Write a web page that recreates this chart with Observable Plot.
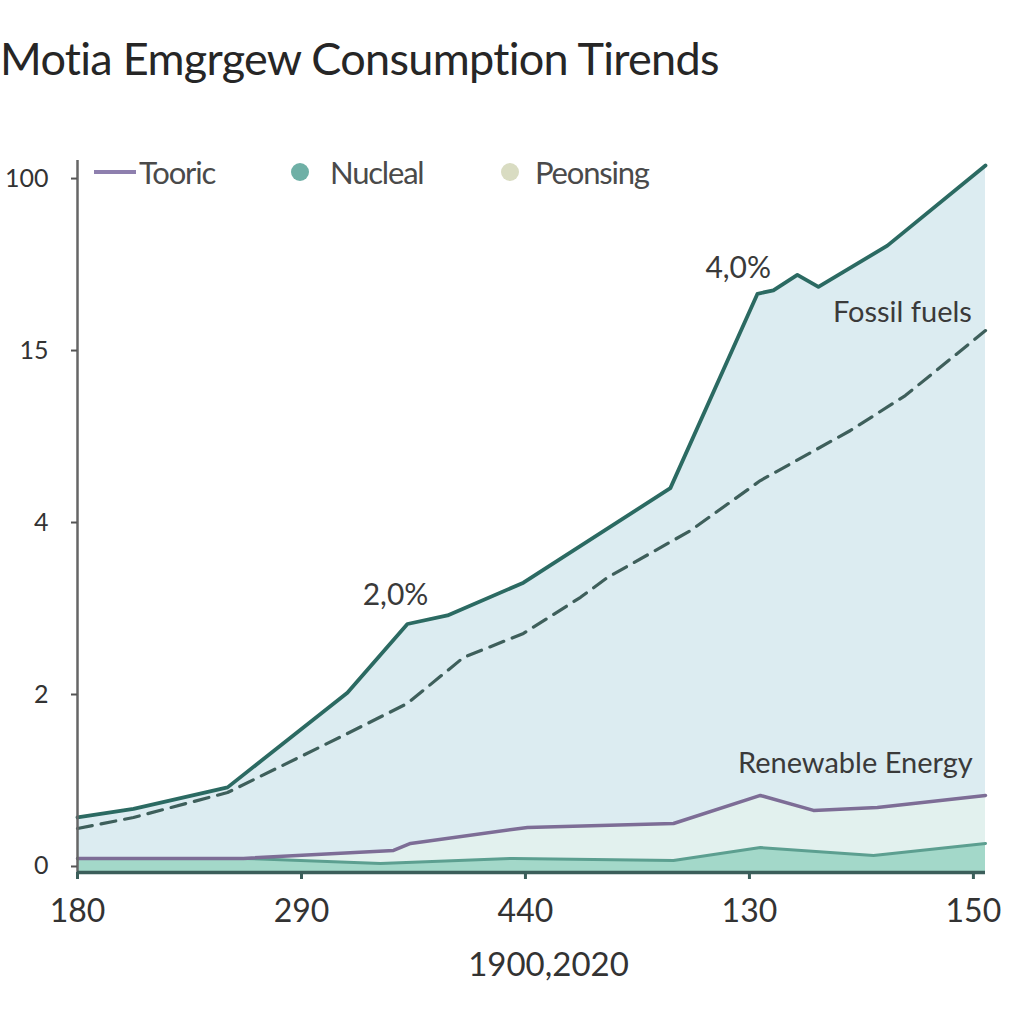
<!DOCTYPE html>
<html>
<head>
<meta charset="utf-8">
<script src="https://cdn.jsdelivr.net/npm/d3@7"></script>
<script src="https://cdn.jsdelivr.net/npm/@observablehq/plot@0.6"></script>
<style>
  html, body { margin: 0; padding: 0; background: #fff; }
  body { width: 1024px; height: 1024px; position: relative; overflow: hidden; font-family: Lato, "Open Sans", sans-serif; }
  #title { position: absolute; left: 0px; top: 31px; font-size: 45px; color: #262626; letter-spacing: -0.7px; white-space: nowrap; }
  #chart { position: absolute; left: 0; top: 100px; }
  #legend { position: absolute; left: 0; top: 0; width: 1024px; height: 0; font-size: 31px; color: #4a4a4a; letter-spacing: -1.2px; }
  .sw { position: absolute; }
  .lab { position: absolute; top: 153px; white-space: nowrap; }
</style>
</head>
<body>
<div id="title"></div>
<div id="chart"></div>
<div id="legend"></div>
<script>
// ---- data (x in tick-index units, y in tick-index units) ----
const titleText = "Motia Emgrgew Consumption Tirends";
const xAxisLabel = "1900,2020";
const xTickLabels = ["180", "290", "440", "130", "150"];
const yTickLabels = ["0", "2", "4", "15", "100"];

const totalX = [0, 0.25, 0.67, 1.205, 1.473, 1.652, 1.991, 2.647, 3.036, 3.107, 3.214, 3.308, 3.616, 4.054];
const totalY = [0.285, 0.335, 0.46, 1.01, 1.41, 1.46, 1.65, 2.2, 3.33, 3.35, 3.44, 3.37, 3.61, 4.076];

const fossilX = [0, 0.25, 0.67, 1.205, 1.473, 1.723, 1.991, 2.246, 2.366, 2.737, 3.049, 3.451, 3.696, 4.054];
const fossilY = [0.221, 0.285, 0.43, 0.773, 0.948, 1.215, 1.355, 1.565, 1.68, 1.953, 2.244, 2.535, 2.738, 3.116];

const tooricX = [0, 0.741, 1.411, 1.487, 2.009, 2.661, 3.049, 3.286, 3.571, 4.054];
const tooricY = [0.047, 0.047, 0.093, 0.134, 0.227, 0.25, 0.413, 0.326, 0.343, 0.413];

const nuclearX = [0, 0.741, 1.353, 1.946, 2.661, 3.049, 3.554, 4.054];
const nuclearY = [0.047, 0.047, 0.017, 0.047, 0.035, 0.11, 0.064, 0.134];

const legendNames = ["Tooric", "Nucleal", "Peonsing"];
const legendColors = ["#8e7fae", "#6fb0a6", "#d9dcc2"];

const annotations = [
  {x: 1.42, y: 1.576, text: "2,0%", size: 30},
  {x: 2.95, y: 3.477, text: "4,0%", size: 30},
  {x: 3.683, y: 3.221, text: "Fossil fuels", size: 29},
  {x: 3.473, y: 0.599, text: "Renewable Energy", size: 29}
];

// ---- tables ----
const zip = (xs, ys) => xs.map((x, i) => ({x, y: ys[i]}));
const total = zip(totalX, totalY);
const fossil = zip(fossilX, fossilY);
const tooric = zip(tooricX, tooricY);
const nuclear = zip(nuclearX, nuclearY);

document.getElementById("title").textContent = titleText;

// legend (layout positions kept here, not in data)
const legend = document.getElementById("legend");
const swatchLeft = [94, 291, 501];
const labelLeft = [139, 330, 535];
legendNames.forEach((name, i) => {
  const sw = document.createElement("div");
  sw.className = "sw";
  sw.style.background = legendColors[i];
  if (i === 0) {
    Object.assign(sw.style, {left: swatchLeft[i] + "px", top: "170px", width: "42px", height: "4px"});
  } else {
    Object.assign(sw.style, {left: swatchLeft[i] + "px", top: "163px", width: "18px", height: "18px", borderRadius: "50%"});
  }
  legend.appendChild(sw);
  const t = document.createElement("div");
  t.className = "lab";
  t.style.left = labelLeft[i] + "px";
  t.textContent = name;
  legend.appendChild(t);
});

const plot = Plot.plot({
  width: 1024,
  height: 924,
  marginTop: 60,
  marginBottom: 152,
  marginLeft: 77,
  marginRight: 39,
  style: {fontFamily: "Lato, 'Open Sans', sans-serif", background: "transparent", color: "#333"},
  x: {domain: [0, 4.054], label: null},
  y: {domain: [-0.035, 4.105], label: null},
  marks: [
    Plot.areaY(total, {x: "x", y1: -0.035, y2: "y", fill: "#dcecf1"}),
    Plot.areaY(tooric, {x: "x", y1: -0.035, y2: "y", fill: "#e2f1ee"}),
    Plot.areaY(nuclear, {x: "x", y1: -0.035, y2: "y", fill: "#a3d8c9"}),
    Plot.lineY(nuclear, {x: "x", y: "y", stroke: "#5c9f90", strokeWidth: 3}),
    Plot.lineY(tooric, {x: "x", y: "y", stroke: "#7d6d96", strokeWidth: 3.5}),
    Plot.lineY(fossil, {x: "x", y: "y", stroke: "#3e5f5b", strokeWidth: 3.2, strokeDasharray: "15,9"}),
    Plot.lineY(total, {x: "x", y: "y", stroke: "#2b6a62", strokeWidth: 3.8}),
    Plot.ruleX([0], {stroke: "#666", strokeWidth: 2.5}),
    Plot.ruleY([-0.035], {stroke: "#3b5e5a", strokeWidth: 3.5}),
    Plot.axisY({
      ticks: d3.range(yTickLabels.length),
      tickFormat: i => yTickLabels[i],
      tickSize: 6, tickPadding: 23, fontSize: 25, stroke: "#555", strokeWidth: 2, label: null
    }),
    Plot.axisX({
      ticks: d3.range(xTickLabels.length),
      tickFormat: i => xTickLabels[i],
      tickSize: 7, tickPadding: 20, fontSize: 32, letterSpacing: -1.2, stroke: "#3b5e5a", strokeWidth: 3, label: null
    }),
    Plot.text([xAxisLabel], {frameAnchor: "bottom", dx: 17, dy: 103, fontSize: 33, fill: "#333", letterSpacing: -1.2}),
    Plot.text(annotations, {x: "x", y: "y", text: "text", fontSize: "size", fill: "#3a3a3a", letterSpacing: -1})
  ]
});
document.getElementById("chart").appendChild(plot);
</script>
</body>
</html>
